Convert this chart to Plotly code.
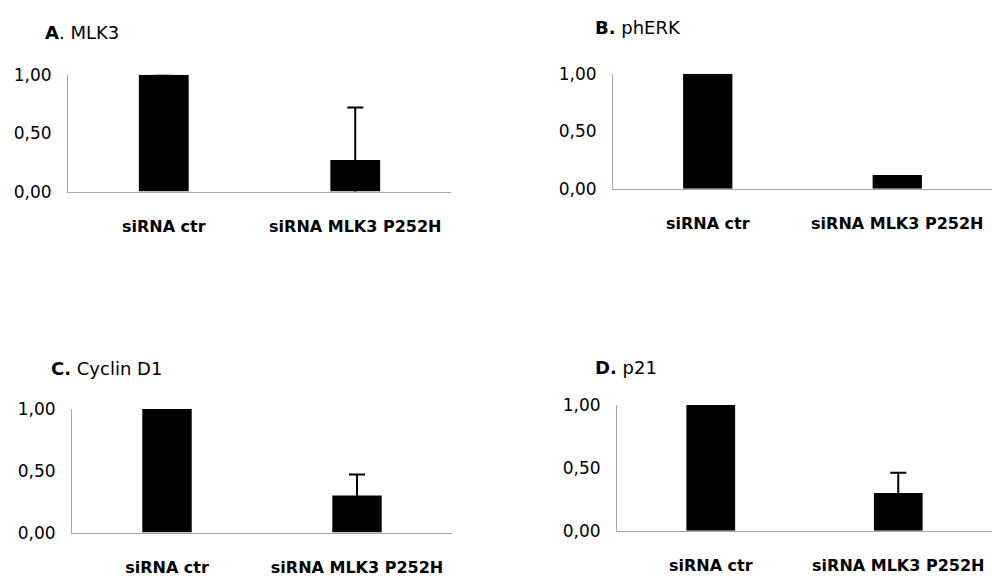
import plotly.graph_objects as go

# Relative protein levels after siRNA knock-down (normalised to control)
categories = ["siRNA ctr", "siRNA MLK3 P252H"]

mlk3_values = [1.00, 0.27]
mlk3_errors = [0.003, 0.45]

pherk_values = [1.00, 0.12]
pherk_errors = [0.0, 0.0]

cyclin_values = [1.00, 0.30]
cyclin_errors = [0.003, 0.17]

p21_values = [1.00, 0.30]
p21_errors = [0.005, 0.16]

tick_vals = [0.0, 0.5, 1.0]
tick_text = ["0,00", "0,50", "1,00"]

panels = [
    ("<b>A</b>. MLK3", mlk3_values, mlk3_errors),
    ("<b>B.</b> phERK", pherk_values, pherk_errors),
    ("<b>C.</b> Cyclin D1", cyclin_values, cyclin_errors),
    ("<b>D.</b> p21", p21_values, p21_errors),
]

W, H = 992, 587
# plot-area boxes in pixels: (left, right, top, bottom)
boxes = [
    (68, 451, 67, 188),
    (613, 992, 66, 185),
    (72, 452, 413, 541),
    (617, 992, 409, 539),
]
title_pos = [(43, 23), (593, 18), (49, 371), (593, 370)]

FONT = "'DejaVu Sans', Verdana, sans-serif"
AXIS_GREY = "#a6a6a6"

fig = go.Figure()
layout = {}
annotations = []
for i, ((title, vals, errs), (l, r, t, b), (tx, ty)) in enumerate(
        zip(panels, boxes, title_pos), start=1):
    xa = "x" if i == 1 else f"x{i}"
    ya = "y" if i == 1 else f"y{i}"
    fig.add_trace(go.Bar(
        x=categories, y=vals, width=0.26,
        marker=dict(color="black", line=dict(width=0)),
        error_y=dict(type="data", array=errs, visible=any(e > 0 for e in errs),
                     color="black", thickness=2, width=8),
        cliponaxis=False, showlegend=False,
        xaxis=xa, yaxis=ya,
    ))
    xkey = "xaxis" if i == 1 else f"xaxis{i}"
    ykey = "yaxis" if i == 1 else f"yaxis{i}"
    layout[xkey] = dict(
        domain=[l / W, r / W], anchor=ya, showline=True, linecolor=AXIS_GREY,
        linewidth=1, showgrid=False, zeroline=False, ticks="",
        tickfont=dict(family=FONT, size=16, color="black", weight="bold"),
        ticklabelstandoff=20, fixedrange=True,
    )
    layout[ykey] = dict(
        domain=[1 - b / H, 1 - t / H], anchor=xa, range=[0, 1],
        showline=True, linecolor=AXIS_GREY, linewidth=1, showgrid=False,
        zeroline=False, ticks="", tickvals=tick_vals, ticktext=tick_text,
        tickfont=dict(family=FONT, size=17, color="black"),
        ticklabelstandoff=12, fixedrange=True,
    )
    annotations.append(dict(
        text=title, x=tx / W, y=1 - ty / H, xref="paper", yref="paper",
        xanchor="left", yanchor="middle", showarrow=False,
        font=dict(family=FONT, size=18, color="black"),
    ))

fig.update_layout(
    width=W, height=H, margin=dict(l=0, r=0, t=0, b=0),
    paper_bgcolor="white", plot_bgcolor="white",
    annotations=annotations, **layout,
)

fig.write_html("out.html", config={"displayModeBar": False})
